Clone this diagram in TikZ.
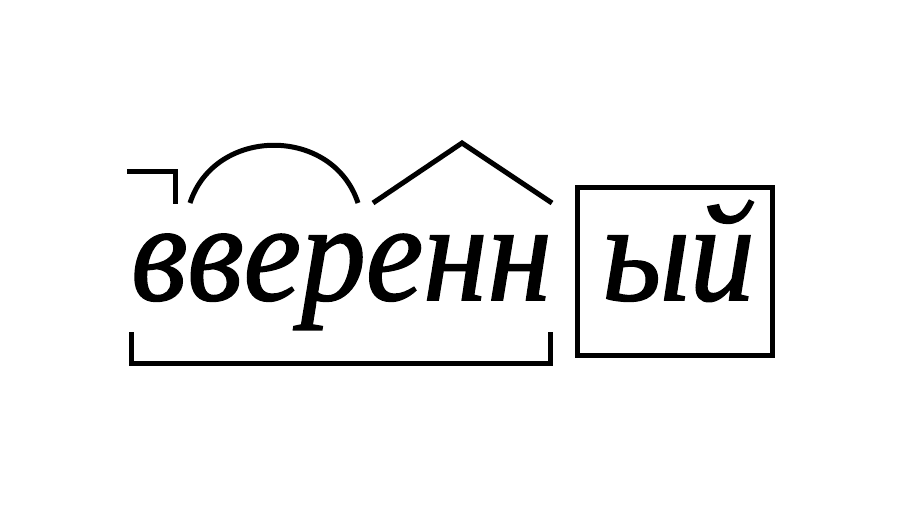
\documentclass[tikz,border=0pt]{standalone}
\usepackage{fontspec}
\setmainfont{Liberation Serif}
\newfontfamily\wordfont[FakeStretch=0.925,FakeBold=1.2]{Liberation Serif Italic}
\tikzset{
  morph/.style={line width=5pt, line join=miter},
  word/.style={font=\fontsize{140}{150}\selectfont\wordfont, inner sep=0pt, anchor=base west}
}
\begin{document}
\begin{tikzpicture}[x=1pt,y=-1pt]
\useasboundingbox (0,0) rectangle (910,512);
\node[word] (stem) at (131,300) {вверенн};
\node[word] (end) at (602,300) {ый};
% prefix
\draw[morph] (127,171) -- (175,171) -- (175,204);
% root
\draw[morph] (190,203) .. controls (215,126) and (333,126) .. (358,203);
% suffix
\draw[morph] (373,203) -- (462,143) -- (552,203);
% ending
\draw[morph] (577,187) rectangle (772,355);
% stem bracket
\draw[morph] (131,332) -- (131,363) -- (550,363) -- (550,332);
\end{tikzpicture}
\end{document}
